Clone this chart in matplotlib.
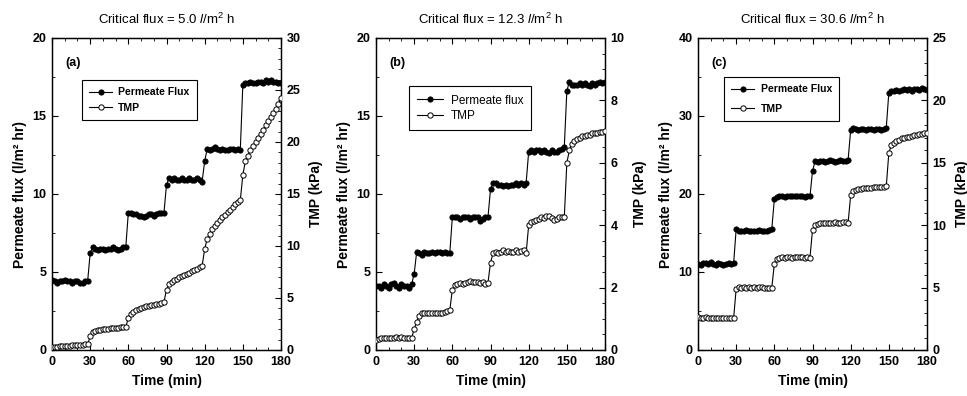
import numpy as np
import matplotlib
matplotlib.use('Agg')
import matplotlib.pyplot as plt
from matplotlib.ticker import MultipleLocator, AutoMinorLocator

plt.rcParams['font.family'] = ['Liberation Sans', 'DejaVu Sans']
plt.rcParams['mathtext.fontset'] = 'custom'
plt.rcParams['mathtext.rm'] = 'Liberation Sans'
plt.rcParams['mathtext.it'] = 'Liberation Sans:italic'
plt.rcParams['mathtext.bf'] = 'Liberation Sans:bold'

# waktu sampling (menit)
time_min = np.arange(0, 181, 2)

# (a) critical flux 5.0
flux_a = [4.5, 4.4, 4.3, 4.4, 4.4, 4.5, 4.4, 4.4, 4.3, 4.4, 4.4, 4.3, 4.3, 4.4, 4.4,
          6.2, 6.6, 6.5, 6.4, 6.5, 6.5, 6.4, 6.5, 6.5, 6.6, 6.5, 6.4, 6.5, 6.6, 6.6,
          8.8, 8.8, 8.7, 8.7, 8.6, 8.6, 8.5, 8.6, 8.7, 8.7, 8.6, 8.7, 8.8, 8.8, 8.8,
          10.6, 11.0, 10.9, 11.0, 10.9, 10.9, 11.0, 10.9, 10.9, 11.0, 10.9, 10.9, 11.0, 10.9, 10.8,
          12.1, 12.9, 12.8, 12.9, 13.0, 12.9, 12.8, 12.9, 12.8, 12.8, 12.9, 12.9, 12.8, 12.9, 12.8,
          17.0, 17.1, 17.1, 17.2, 17.1, 17.1, 17.2, 17.2, 17.1, 17.3, 17.2, 17.3, 17.2, 17.2, 17.1, 17.1]
tmp_a = [0.3, 0.3, 0.3, 0.35, 0.35, 0.4, 0.4, 0.4, 0.45, 0.45, 0.5, 0.5, 0.5, 0.55, 0.55,
         1.3, 1.7, 1.85, 1.9, 1.95, 2.0, 2.0, 2.05, 2.1, 2.1, 2.15, 2.15, 2.2, 2.2, 2.2,
         3.1, 3.5, 3.7, 3.85, 3.95, 4.05, 4.1, 4.2, 4.25, 4.3, 4.35, 4.4, 4.45, 4.5, 4.6,
         5.8, 6.3, 6.55, 6.7, 6.85, 7.0, 7.1, 7.2, 7.35, 7.45, 7.55, 7.7, 7.8, 7.95, 8.1,
         9.7, 10.7, 11.2, 11.6, 11.9, 12.2, 12.5, 12.75, 13.0, 13.25, 13.5, 13.75, 14.0, 14.2, 14.4,
         16.8, 18.2, 18.7, 19.2, 19.6, 20.0, 20.4, 20.8, 21.2, 21.6, 22.0, 22.4, 22.8, 23.2, 23.7, 24.2]

# (b) critical flux 12.3
flux_b = [4.1, 4.1, 4.0, 4.2, 4.1, 4.0, 4.2, 4.3, 4.1, 4.0, 4.2, 4.1, 4.1, 4.0, 4.2,
          4.9, 6.3, 6.2, 6.1, 6.3, 6.2, 6.2, 6.3, 6.2, 6.3, 6.3, 6.2, 6.3, 6.2, 6.2,
          8.5, 8.5, 8.5, 8.4, 8.5, 8.5, 8.5, 8.4, 8.5, 8.5, 8.5, 8.3, 8.4, 8.5, 8.5,
          10.3, 10.7, 10.7, 10.6, 10.6, 10.5, 10.6, 10.5, 10.6, 10.6, 10.7, 10.6, 10.7, 10.6, 10.7,
          12.7, 12.8, 12.7, 12.8, 12.8, 12.7, 12.8, 12.7, 12.6, 12.8, 12.7, 12.7, 12.8, 12.9, 13.0,
          16.6, 17.2, 17.0, 17.0, 17.0, 17.1, 17.0, 17.1, 17.0, 16.9, 17.1, 17.0, 17.1, 17.2, 17.1, 17.2]
tmp_b = [0.33, 0.35, 0.37, 0.38, 0.38, 0.4, 0.38, 0.4, 0.42, 0.4, 0.43, 0.4, 0.38, 0.37, 0.38,
         0.67, 0.9, 1.1, 1.18, 1.2, 1.2, 1.2, 1.2, 1.2, 1.2, 1.2, 1.2, 1.22, 1.25, 1.27,
         1.93, 2.08, 2.12, 2.15, 2.13, 2.15, 2.18, 2.2, 2.18, 2.17, 2.18, 2.15, 2.17, 2.12, 2.15,
         2.8, 3.1, 3.13, 3.1, 3.15, 3.2, 3.15, 3.17, 3.15, 3.15, 3.2, 3.13, 3.18, 3.22, 3.1,
         4.0, 4.1, 4.15, 4.18, 4.2, 4.25, 4.22, 4.28, 4.3, 4.22, 4.18, 4.2, 4.25, 4.25, 4.25,
         6.0, 6.4, 6.6, 6.7, 6.75, 6.8, 6.85, 6.85, 6.9, 6.9, 6.95, 6.95, 6.97, 7.0, 7.0, 7.03]

# (c) critical flux 30.6
flux_c = [11.0, 10.9, 11.1, 11.2, 11.0, 11.3, 11.0, 10.9, 11.1, 11.0, 10.9, 11.0, 11.1, 11.0, 11.1,
          15.5, 15.2, 15.3, 15.2, 15.4, 15.3, 15.3, 15.2, 15.3, 15.4, 15.3, 15.2, 15.3, 15.4, 15.5,
          19.3, 19.6, 19.7, 19.7, 19.6, 19.7, 19.7, 19.8, 19.7, 19.7, 19.8, 19.7, 19.6, 19.7, 19.7,
          22.9, 24.2, 24.1, 24.2, 24.2, 24.1, 24.2, 24.3, 24.2, 24.1, 24.2, 24.3, 24.2, 24.2, 24.4,
          28.2, 28.5, 28.3, 28.2, 28.3, 28.3, 28.2, 28.3, 28.3, 28.2, 28.3, 28.3, 28.2, 28.3, 28.5,
          33.0, 33.2, 33.2, 33.3, 33.2, 33.3, 33.4, 33.3, 33.4, 33.2, 33.4, 33.5, 33.3, 33.6, 33.4, 33.3]
tmp_c = [2.65, 2.6, 2.6, 2.62, 2.58, 2.6, 2.55, 2.58, 2.6, 2.55, 2.57, 2.55, 2.56, 2.55, 2.55,
         4.9, 5.05, 5.0, 5.02, 5.0, 5.03, 5.0, 5.02, 5.0, 5.03, 5.02, 5.0, 5.0, 5.0, 4.98,
         6.9, 7.3, 7.4, 7.42, 7.4, 7.45, 7.42, 7.4, 7.45, 7.43, 7.42, 7.45, 7.4, 7.42, 7.4,
         9.6, 10.0, 10.1, 10.15, 10.15, 10.2, 10.2, 10.2, 10.2, 10.22, 10.2, 10.2, 10.22, 10.22, 10.2,
         12.4, 12.75, 12.85, 12.9, 12.92, 12.95, 13.0, 13.0, 13.02, 13.05, 13.05, 13.05, 13.08, 13.1, 13.12,
         15.8, 16.4, 16.6, 16.75, 16.85, 16.95, 17.0, 17.05, 17.1, 17.15, 17.2, 17.25, 17.3, 17.32, 17.35, 17.38]

titles = [r'Critical flux = 5.0 $\mathit{l}$/m$^2$ h',
          r'Critical flux = 12.3 $\mathit{l}$/m$^2$ h',
          r'Critical flux = 30.6 $\mathit{l}$/m$^2$ h']
panel_labels = ['(a)', '(b)', '(c)']
flux_labels = ['Permeate Flux', 'Permeate flux', 'Permeate Flux']
flux_all = [flux_a, flux_b, flux_c]
tmp_all = [tmp_a, tmp_b, tmp_c]
flux_lim = [(0, 20, 5), (0, 20, 5), (0, 40, 10)]
tmp_lim = [(0, 30, 5), (0, 10, 2), (0, 25, 5)]
tmp_minor = [5, 4, 5]

# posisi axes (fraksi figure)
lefts = [52 / 967, 376 / 967, 698 / 967]
w = 229 / 967
bottom = 46 / 396
h = 312 / 396
legend_pos = [(0.13, 0.865), (0.145, 0.845), (0.114, 0.875)]
legend_fs = [7.5, 8.5, 7.5]
legend_sp = [0.55, 0.3, 0.9]

fig = plt.figure(figsize=(9.67, 3.96), dpi=100)

for i in range(3):
    ax = fig.add_axes([lefts[i], bottom, w, h])
    ax2 = ax.twinx()

    l1, = ax.plot(time_min, flux_all[i], 'o-', color='black', markersize=3.8,
                  linewidth=0.8, markerfacecolor='black', markeredgewidth=0.6,
                  label=flux_labels[i], zorder=3)
    l2, = ax2.plot(time_min, tmp_all[i], 'o-', color='black', markersize=3.8,
                   linewidth=0.8, markerfacecolor='white', markeredgewidth=0.7,
                   label='TMP', zorder=3)

    ax.set_xlim(0, 180)
    ax.set_ylim(flux_lim[i][0], flux_lim[i][1])
    ax2.set_ylim(tmp_lim[i][0], tmp_lim[i][1])
    ax.xaxis.set_major_locator(MultipleLocator(30))
    ax.xaxis.set_minor_locator(MultipleLocator(10))
    ax.yaxis.set_major_locator(MultipleLocator(flux_lim[i][2]))
    ax.yaxis.set_minor_locator(AutoMinorLocator(2))
    ax2.yaxis.set_major_locator(MultipleLocator(tmp_lim[i][2]))
    ax2.yaxis.set_minor_locator(AutoMinorLocator(tmp_minor[i]))

    ax.tick_params(axis='x', which='both', direction='in', top=True)
    ax.tick_params(axis='y', which='both', direction='in')
    ax.tick_params(which='major', length=4, width=0.8, labelsize=9, pad=4)
    ax.tick_params(which='minor', length=2, width=0.6)
    ax2.tick_params(which='both', direction='in')
    ax2.tick_params(which='major', length=4, width=0.8, labelsize=9, pad=4)
    ax2.tick_params(which='minor', length=2, width=0.6)
    for lab in ax.get_xticklabels() + ax.get_yticklabels() + ax2.get_yticklabels():
        lab.set_fontweight('bold')
    for sp in list(ax.spines.values()) + list(ax2.spines.values()):
        sp.set_linewidth(0.9)

    ax.set_xlabel('Time (min)', fontsize=10, fontweight='bold', labelpad=5)
    ax.set_ylabel('Permeate flux (l/m² hr)', fontsize=10, fontweight='bold', labelpad=4)
    ax2.set_ylabel('TMP (kPa)', fontsize=10, fontweight='bold', labelpad=6)
    ax.set_title(titles[i], fontsize=9.5, pad=10)

    ax.text(0.06, 0.91, panel_labels[i], transform=ax.transAxes,
            fontsize=9, fontweight='bold')

    # legenda di ax2 supaya tidak tertutup garis TMP
    leg = ax2.legend(handles=[l1, l2], loc='upper left', bbox_to_anchor=legend_pos[i],
                     bbox_transform=ax.transAxes, fontsize=legend_fs[i], frameon=True,
                     fancybox=False, edgecolor='black', handlelength=2.2,
                     borderpad=0.7, labelspacing=legend_sp[i], handletextpad=0.6,
                     borderaxespad=0, framealpha=1)
    leg.get_frame().set_linewidth(0.8)
    leg.set_zorder(5)
    if i != 1:
        for t in leg.get_texts():
            t.set_fontweight('bold')

fig.savefig('out.png', dpi=100)
